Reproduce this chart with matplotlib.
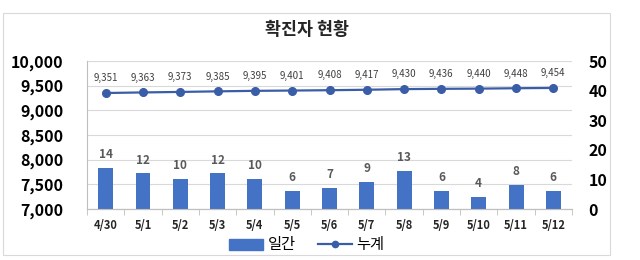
import matplotlib.pyplot as plt
import matplotlib.patches as mpatches
from matplotlib.lines import Line2D
import numpy as np

plt.rcParams['font.family'] = ['Noto Sans CJK KR', 'DejaVu Sans']

# --- data ---
dates = ["4/30", "5/1", "5/2", "5/3", "5/4", "5/5", "5/6", "5/7", "5/8",
         "5/9", "5/10", "5/11", "5/12"]
daily = [14, 12, 10, 12, 10, 6, 7, 9, 13, 6, 4, 8, 6]
cumulative = [9351, 9363, 9373, 9385, 9395, 9401, 9408, 9417, 9430,
              9436, 9440, 9448, 9454]

bar_color = "#4472C4"
line_color = "#3A5DA8"
grid_color = "#D9D9D9"

fig = plt.figure(figsize=(6.4, 2.6), dpi=100)
W, H = 640, 260

# chart frame
fig.patches.append(mpatches.Rectangle((3 / W, 5 / H), 607 / W, 242 / H,
                                      transform=fig.transFigure,
                                      fill=False, edgecolor="#D9D9D9", lw=0.8))

ax = fig.add_axes([87 / W, 1 - 209 / H, (572 - 87) / W, (209 - 61) / H])
ax2 = ax.twinx()

x = np.arange(len(dates))

# bars on the right axis
ax2.bar(x, daily, width=0.4, color=bar_color, zorder=2)
for xi, v in zip(x, daily):
    ax2.annotate(f"{v}", (xi, v), xytext=(0, 5), textcoords="offset points",
                 ha="center", va="bottom", fontsize=8.5, color="#595959",
                 fontweight="bold")
ax2.set_ylim(0, 50)
ax2.set_yticks([0, 10, 20, 30, 40, 50])

# left axis ticks + grid
ax.set_ylim(7000, 10000)
ax.set_yticks(np.arange(7000, 10001, 500))
ax.set_yticklabels([f"{v:,}" for v in np.arange(7000, 10001, 500)])
ax.yaxis.grid(True, color=grid_color, lw=0.8)
ax.set_axisbelow(True)

# cumulative line on an overlay so it sits above the bars
ax3 = fig.add_axes(ax.get_position(), sharex=ax, frameon=False)
ax3.set_ylim(7000, 10000)
ax3.plot(x, cumulative, color=line_color, lw=1.6, marker="o", ms=5.5, zorder=3)
for xi, v in zip(x, cumulative):
    ax3.annotate(f"{v:,}", (xi, v), xytext=(0, 7), textcoords="offset points",
                 ha="center", va="bottom", fontsize=7, color="#404040")
ax3.axis("off")

ax.set_xlim(-0.5, len(dates) - 0.5)
ax.set_xticks(x)
ax.set_xticklabels(dates)
ax.set_xticks(np.arange(-0.5, len(dates), 1), minor=True)
ax.tick_params(axis="x", which="major", length=0, pad=7, labelsize=8,
               labelcolor="#262626")
ax.tick_params(axis="x", which="minor", length=4, color="#BFBFBF")
for lab in ax.get_xticklabels():
    lab.set_fontweight("bold")

ax.tick_params(axis="y", length=0, pad=17, labelsize=11.5, labelcolor="black")
ax2.tick_params(axis="y", length=0, pad=12, labelsize=11.5, labelcolor="black")
for lab in ax.get_yticklabels() + ax2.get_yticklabels():
    lab.set_fontweight("bold")

for a in (ax, ax2):
    a.spines["top"].set_visible(False)
    a.spines["right"].set_visible(False)
    a.spines["left"].set_color("#BFBFBF")
    a.spines["bottom"].set_color("#BFBFBF")
ax2.spines["left"].set_visible(False)

fig.text(307 / W, 1 - 30 / H, "확진자 현황", ha="center", va="center",
         fontsize=12.5, fontweight="bold", color="#262626")

handles = [mpatches.Patch(color=bar_color, label="일간"),
           Line2D([0], [0], color=line_color, lw=1.6, marker="o", ms=4.5,
                  label="누계")]
fig.legend(handles=handles, loc="center", bbox_to_anchor=(307 / W, 1 - 245 / H),
           ncol=2, frameon=False, fontsize=11, handlelength=2.2,
           columnspacing=1.5, handletextpad=0.3)

fig.savefig("out.png", dpi=100)
